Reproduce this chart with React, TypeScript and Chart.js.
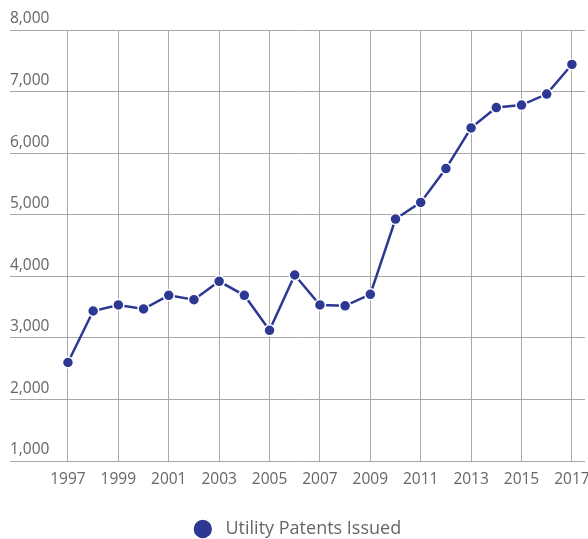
import React, { useEffect, useRef } from "react";
import { Chart, registerables } from "chart.js";

Chart.register(...registerables);

const years = [1997, 1998, 1999, 2000, 2001, 2002, 2003, 2004, 2005, 2006, 2007, 2008, 2009, 2010, 2011, 2012, 2013, 2014, 2015, 2016, 2017];
const patents = [2600, 3436, 3534, 3469, 3691, 3620, 3918, 3691, 3122, 4021, 3534, 3520, 3707, 4930, 5200, 5750, 6410, 6740, 6780, 6960, 7440];
const xTickYears = [1997, 1999, 2001, 2003, 2005, 2007, 2009, 2011, 2013, 2015, 2017];
const seriesLabel = "Utility Patents Issued";

const LINE = "#2c3892";
const TEXT = "#666666";
const GRID = "#a8a8a8";

export default function App() {
  const ref = useRef<HTMLCanvasElement | null>(null);
  useEffect(() => {
    if (!ref.current) return;
    const chart = new Chart(ref.current, {
      type: "line",
      data: {
        datasets: [
          {
            label: " " + seriesLabel,
            data: years.map((y, i) => ({ x: y, y: patents[i] })),
            borderColor: LINE,
            backgroundColor: LINE,
            borderWidth: 2.5,
            pointRadius: 5.5,
            pointBackgroundColor: LINE,
            pointBorderColor: "#ffffff",
            pointBorderWidth: 1.5,
            tension: 0,
          },
        ],
      },
      options: {
        animation: false,
        responsive: false,
        maintainAspectRatio: false,
        layout: { autoPadding: false, padding: { left: 10, right: 3, top: 30, bottom: -9 } },
        plugins: {
          tooltip: { enabled: false },
          legend: {
            position: "bottom",
            labels: {
              usePointStyle: true,
              pointStyle: "circle",
              boxHeight: 14,
              boxWidth: 18,
              color: TEXT,
              padding: 2,
              font: { family: "'Open Sans'", size: 18 },
            },
          },
        },
        scales: {
          x: {
            type: "linear",
            min: 1994.7,
            max: 2017.52,
            afterBuildTicks: (scale: any) => {
              scale.ticks = xTickYears.map((v) => ({ value: v }));
            },
            afterFit: (scale: any) => {
              scale.height = 57;
              scale.paddingLeft = 0;
              scale.paddingRight = 0;
            },
            grid: { color: GRID, lineWidth: 1, drawTicks: false },
            border: { display: false },
            ticks: {
              autoSkip: false,
              maxRotation: 0,
              padding: 9,
              color: TEXT,
              font: { family: "'Open Sans'", size: 15.5 },
              callback: (v: any) => String(v),
            },
          },
          y: {
            min: 1000,
            max: 8000,
            grid: { color: GRID, lineWidth: 1, drawTicks: false },
            border: { display: false },
            ticks: {
              stepSize: 1000,
              mirror: true,
              padding: 0,
              labelOffset: -11,
              color: TEXT,
              font: { family: "'Open Sans'", size: 15.5 },
              callback: (v: any) => Number(v).toLocaleString("en-US"),
            },
          },
        },
      },
    });
    return () => chart.destroy();
  }, []);
  return (
    <div style={{ position: "fixed", left: 0, top: 0, width: 588, height: 539, background: "#fff" }}>
      <canvas ref={ref} width={588} height={539} style={{ width: 588, height: 539 }} />
    </div>
  );
}
